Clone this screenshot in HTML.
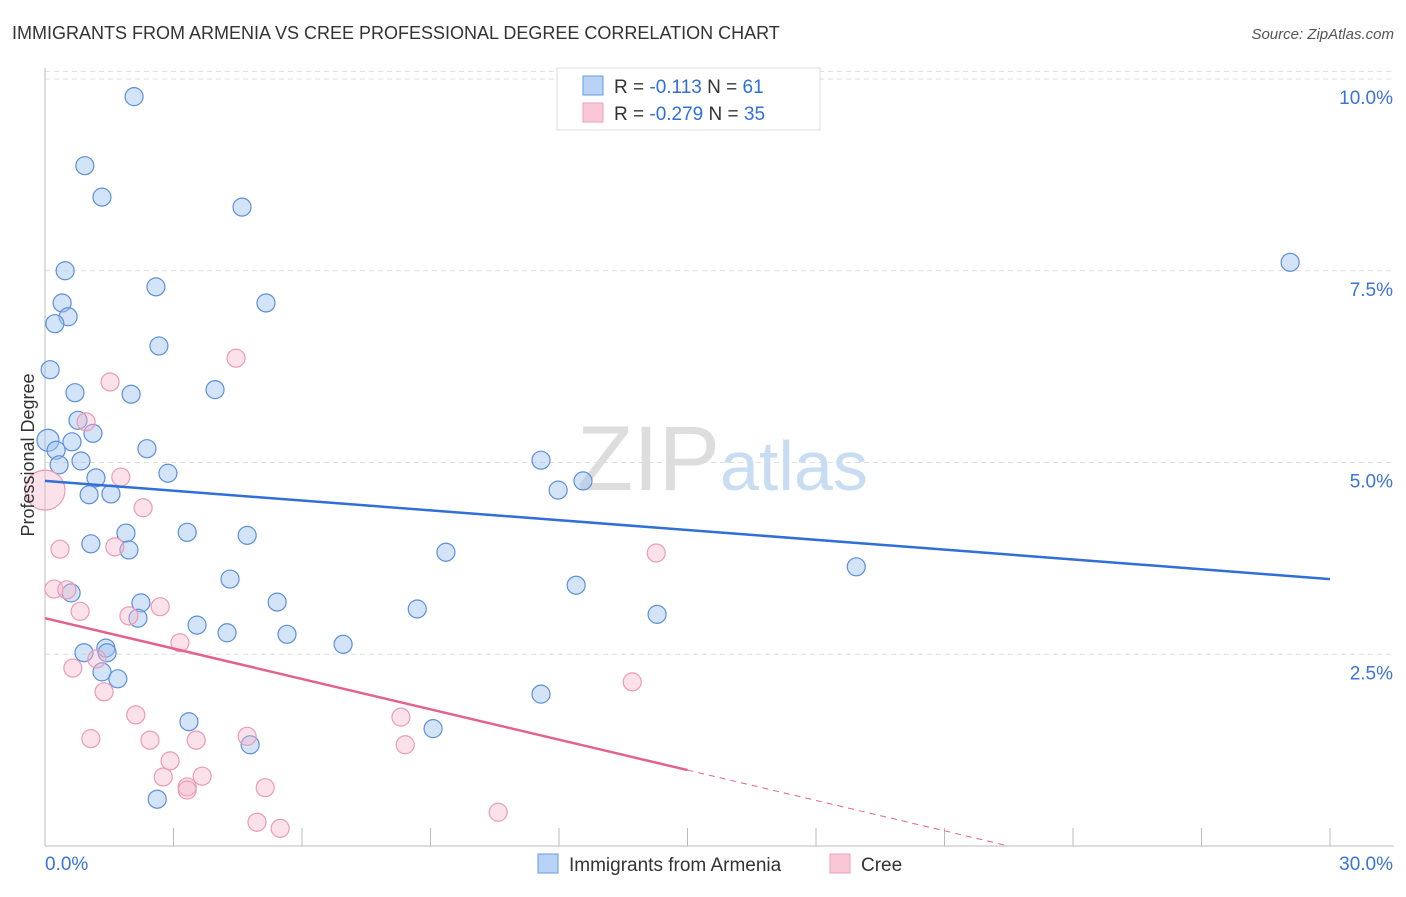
<!DOCTYPE html>
<html><head><meta charset="utf-8"><style>
body{margin:0;background:#fff;font-family:"Liberation Sans",sans-serif;}
svg text{font-family:"Liberation Sans",sans-serif;}
</style></head><body>
<svg id="chart" width="1406" height="892" xmlns="http://www.w3.org/2000/svg">
<text x="12" y="39" font-size="18" fill="#333">IMMIGRANTS FROM ARMENIA VS CREE PROFESSIONAL DEGREE CORRELATION CHART</text>
<text x="1394" y="39" font-size="15" fill="#555" font-style="italic" text-anchor="end">Source: ZipAtlas.com</text>
<g id="grid"></g>
<text x="720" y="490" font-size="92" fill="#ddd" font-family="Liberation Serif" text-anchor="end">ZIP</text>
<text x="720" y="490" font-size="70" fill="#c8dcf2">atlas</text>
<g id="marks"></g>
<text transform="translate(34,455) rotate(-90)" font-size="18" fill="#333" text-anchor="middle">Professional Degree</text>
<g>
<rect x="557" y="68" width="263" height="62" fill="#fff" stroke="#ddd"/>
<rect x="583" y="76" width="20" height="19" fill="#b8d3f5" stroke="#6a9ade"/>
<rect x="583" y="103" width="20" height="19" fill="#f9c7d6" stroke="#eba0b8"/>
<text x="614" y="93" font-size="19" fill="#333">R =  <tspan fill="#2f6fd6">-0.113</tspan>    N =  <tspan fill="#2f6fd6">61</tspan></text>
<text x="614" y="120" font-size="19" fill="#333">R = <tspan fill="#2f6fd6">-0.279</tspan>    N = <tspan fill="#2f6fd6">35</tspan></text>
</g>
<g>
<rect x="538" y="854" width="20" height="19" fill="#b8d3f5" stroke="#6a9ade"/>
<text x="569" y="871" font-size="19" fill="#333">Immigrants from Armenia</text>
<rect x="830" y="854" width="20" height="19" fill="#f9c7d6" stroke="#eba0b8"/>
<text x="861" y="871" font-size="19" fill="#333">Cree</text>
</g>
</svg>
<script>
const xTicks=[0,3,6,9,12,15,18,21,24,27,30];
const yTicks=[2.5,5,7.5,10];
const yTickLabels=["2.5%","5.0%","7.5%","10.0%"];
const blueX=[2.08,0.93,1.33,4.60,0.47,2.59,0.40,5.16,0.54,0.23,2.66,0.12,3.97,0.70,2.01,0.77,1.12,0.07,0.63,0.26,2.38,0.84,0.33,2.87,1.19,11.58,12.56,11.98,1.03,1.54,1.89,3.32,4.72,1.07,1.96,9.36,18.94,29.07,4.32,12.40,0.61,2.24,5.42,2.17,8.69,14.29,3.55,4.25,5.65,6.96,0.91,1.42,1.45,1.33,1.70,11.58,3.36,9.06,4.79,2.62];
const blueY=[9.77,8.87,8.46,8.33,7.50,7.29,7.08,7.08,6.90,6.81,6.52,6.21,5.95,5.91,5.89,5.55,5.38,5.29,5.27,5.16,5.18,5.02,4.97,4.86,4.80,5.03,4.76,4.64,4.58,4.59,4.08,4.09,4.05,3.94,3.86,3.83,3.64,7.61,3.48,3.40,3.30,3.17,3.18,2.97,3.09,3.02,2.88,2.78,2.76,2.63,2.52,2.58,2.52,2.27,2.18,1.98,1.62,1.53,1.32,0.61];
const pinkX=[0.0,4.46,1.52,0.96,1.77,2.29,0.35,1.63,14.27,0.21,0.51,0.82,1.96,2.69,3.15,1.21,0.65,1.38,13.71,2.12,1.07,2.45,3.53,4.72,8.31,8.41,2.92,2.76,3.67,3.32,3.32,5.14,4.95,5.49,10.58];
const pinkY=[4.64,6.36,6.05,5.53,4.81,4.41,3.87,3.90,3.82,3.35,3.34,3.06,3.00,3.12,2.65,2.44,2.32,2.01,2.14,1.71,1.40,1.38,1.38,1.43,1.68,1.32,1.11,0.90,0.91,0.77,0.73,0.76,0.31,0.23,0.44];
const blueTrend=[[0,4.76],[30,3.48]];
const pinkTrend=[[0,2.97],[15,0.99]];
const pinkDash=[[15,0.99],[22.5,0]];
const NS="http://www.w3.org/2000/svg";
const sx=v=>45+v/30*1285, sy=v=>846-v*76.7;
function mk(t,a,p){const e=document.createElementNS(NS,t);for(const k in a)e.setAttribute(k,a[k]);(p||document.getElementById('marks')).appendChild(e);return e;}
const g=document.getElementById('grid');
yTicks.forEach((v,i)=>{
 const l=mk('line',{x1:45,x2:1394,y1:sy(v),y2:sy(v),stroke:'#ddd','stroke-dasharray':'5,4'},g);
 
 
 const t=mk('text',{x:1393,y:sy(v)+25,'font-size':19,fill:'#3a74d6','text-anchor':'end'},g);
 t.textContent=yTickLabels[i];
 
 
});
const t10=mk('line',{x1:45,x2:1394,y1:sy(10.1),y2:sy(10.1),stroke:'#ddd','stroke-dasharray':'5,4'},g);


const ax=mk('line',{x1:45,x2:45,y1:68,y2:846,stroke:'#bbb'},g);


const bx=mk('line',{x1:45,x2:1394,y1:846,y2:846,stroke:'#bbb'},g);


xTicks.forEach(v=>{if(v===0)return;const l=mk('line',{x1:sx(v),x2:sx(v),y1:828,y2:846,stroke:'#bbb'},g);
 
 });
[["0.0%",45,'start'],["30.0%",1393,'end']].forEach(a=>{const t=mk('text',{x:a[1],y:870,'font-size':19,fill:'#3a74d6','text-anchor':a[2]},g);t.textContent=a[0];
 
 });
blueX.forEach((x,i)=>{const c=mk('circle',{cx:sx(x),cy:sy(blueY[i]),r:i===17?11:9,fill:'rgba(160,196,240,0.45)',stroke:'#5b8fd9','stroke-width':1.2});
 
 });
pinkX.forEach((x,i)=>{const c=mk('circle',{cx:sx(x),cy:sy(pinkY[i]),r:i===0?20:9,fill:'rgba(246,182,202,0.4)',stroke:'#eb9ab5','stroke-width':1.2});
 
 });
const bl=mk('line',{x1:sx(blueTrend[0][0]),y1:sy(blueTrend[0][1]),x2:sx(blueTrend[1][0]),y2:sy(blueTrend[1][1]),stroke:'#2f6fd6','stroke-width':2.5});


const pl=mk('line',{x1:sx(pinkTrend[0][0]),y1:sy(pinkTrend[0][1]),x2:sx(pinkTrend[1][0]),y2:sy(pinkTrend[1][1]),stroke:'#e4618f','stroke-width':2.5});


const pd=mk('line',{x1:sx(pinkDash[0][0]),y1:sy(pinkDash[0][1]),x2:sx(pinkDash[1][0]),y2:sy(pinkDash[1][1]),stroke:'#e4618f','stroke-width':1,'stroke-dasharray':'6,5'});


</script>
</body></html>
